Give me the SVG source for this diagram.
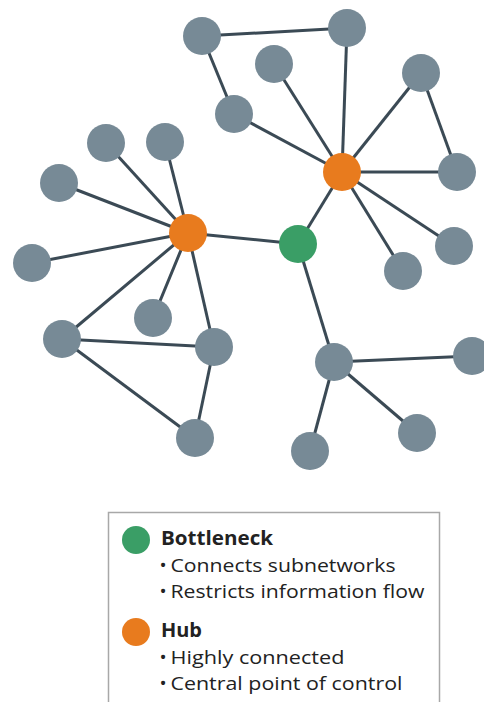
<svg xmlns="http://www.w3.org/2000/svg" width="484" height="702" viewBox="0 0 484 702">
<style>
.e{stroke:#3b4a55;stroke-width:3;fill:none}
.n{fill:#778a96}
.hub{fill:#e87b1e}
.bn{fill:#3a9e66}
.t{font-family:"Open Sans","Liberation Sans",sans-serif;font-size:19px;fill:#222}
.h{font-family:"Open Sans","Liberation Sans",sans-serif;font-size:19px;font-weight:bold;fill:#222}
</style>
<rect width="484" height="702" fill="#fff"/>
<g id="connectors">
<line class="e" x1="202" y1="36" x2="347" y2="28"/>
<line class="e" x1="202" y1="36" x2="234" y2="114"/>
<line class="e" x1="234" y1="114" x2="342" y2="172"/>
<line class="e" x1="274" y1="64" x2="342" y2="172"/>
<line class="e" x1="347" y1="28" x2="342" y2="172"/>
<line class="e" x1="421" y1="73" x2="342" y2="172"/>
<line class="e" x1="421" y1="73" x2="457" y2="172"/>
<line class="e" x1="342" y1="172" x2="457" y2="172"/>
<line class="e" x1="342" y1="172" x2="454" y2="246"/>
<line class="e" x1="342" y1="172" x2="403" y2="271"/>
<line class="e" x1="342" y1="172" x2="298" y2="244"/>
<line class="e" x1="298" y1="244" x2="188" y2="233"/>
<line class="e" x1="298" y1="244" x2="334" y2="362"/>
<line class="e" x1="334" y1="362" x2="472" y2="356"/>
<line class="e" x1="334" y1="362" x2="417" y2="433"/>
<line class="e" x1="334" y1="362" x2="310" y2="451"/>
<line class="e" x1="188" y1="233" x2="106" y2="143"/>
<line class="e" x1="188" y1="233" x2="165" y2="142"/>
<line class="e" x1="188" y1="233" x2="59" y2="183"/>
<line class="e" x1="188" y1="233" x2="32" y2="263"/>
<line class="e" x1="188" y1="233" x2="153" y2="318"/>
<line class="e" x1="188" y1="233" x2="62" y2="339"/>
<line class="e" x1="188" y1="233" x2="214" y2="347"/>
<line class="e" x1="62" y1="339" x2="214" y2="347"/>
<line class="e" x1="62" y1="339" x2="195" y2="438"/>
<line class="e" x1="214" y1="347" x2="195" y2="438"/>
</g>
<g id="n1"><circle class="n" cx="202" cy="36" r="19"/></g>
<g id="n2"><circle class="n" cx="347" cy="28" r="19"/></g>
<g id="n3"><circle class="n" cx="274" cy="64" r="19"/></g>
<g id="n4"><circle class="n" cx="234" cy="114" r="19"/></g>
<g id="n5"><circle class="n" cx="421" cy="73" r="19"/></g>
<g id="n6"><circle class="n" cx="457" cy="172" r="19"/></g>
<g id="n7"><circle class="n" cx="454" cy="246" r="19"/></g>
<g id="n8"><circle class="n" cx="403" cy="271" r="19"/></g>
<g id="hubR"><circle class="hub" cx="342" cy="172" r="19"/></g>
<g id="bottleneck"><circle class="bn" cx="298" cy="244" r="19"/></g>
<g id="hubL"><circle class="hub" cx="188" cy="233" r="19"/></g>
<g id="n9"><circle class="n" cx="106" cy="143" r="19"/></g>
<g id="n10"><circle class="n" cx="165" cy="142" r="19"/></g>
<g id="n11"><circle class="n" cx="59" cy="183" r="19"/></g>
<g id="n12"><circle class="n" cx="32" cy="263" r="19"/></g>
<g id="n13"><circle class="n" cx="153" cy="318" r="19"/></g>
<g id="n14"><circle class="n" cx="62" cy="339" r="19"/></g>
<g id="n15"><circle class="n" cx="214" cy="347" r="19"/></g>
<g id="n16"><circle class="n" cx="195" cy="438" r="19"/></g>
<g id="n17"><circle class="n" cx="334" cy="362" r="19"/></g>
<g id="n18"><circle class="n" cx="472" cy="356" r="19"/></g>
<g id="n19"><circle class="n" cx="417" cy="433" r="19"/></g>
<g id="n20"><circle class="n" cx="310" cy="451" r="19"/></g>
<g id="legend">
<rect x="108.5" y="512.5" width="331" height="200" fill="#fff" stroke="#a8a8a8" stroke-width="1.5"/>
<circle class="bn" cx="136" cy="540" r="14"/>
<circle class="hub" cx="136" cy="632" r="14"/>
<text class="h" x="161" y="545" textLength="112" lengthAdjust="spacingAndGlyphs">Bottleneck</text>
<text class="t" y="572"><tspan x="159.5">•</tspan><tspan x="170.5" textLength="225" lengthAdjust="spacingAndGlyphs">Connects subnetworks</tspan></text>
<text class="t" y="598"><tspan x="159.5">•</tspan><tspan x="170.5" textLength="254" lengthAdjust="spacingAndGlyphs">Restricts information flow</tspan></text>
<text class="h" x="161" y="637" textLength="41" lengthAdjust="spacingAndGlyphs">Hub</text>
<text class="t" y="664"><tspan x="159.5">•</tspan><tspan x="170.5" textLength="174" lengthAdjust="spacingAndGlyphs">Highly connected</tspan></text>
<text class="t" y="690"><tspan x="159.5">•</tspan><tspan x="170.5" textLength="232" lengthAdjust="spacingAndGlyphs">Central point of control</tspan></text>
</g>
</svg>
